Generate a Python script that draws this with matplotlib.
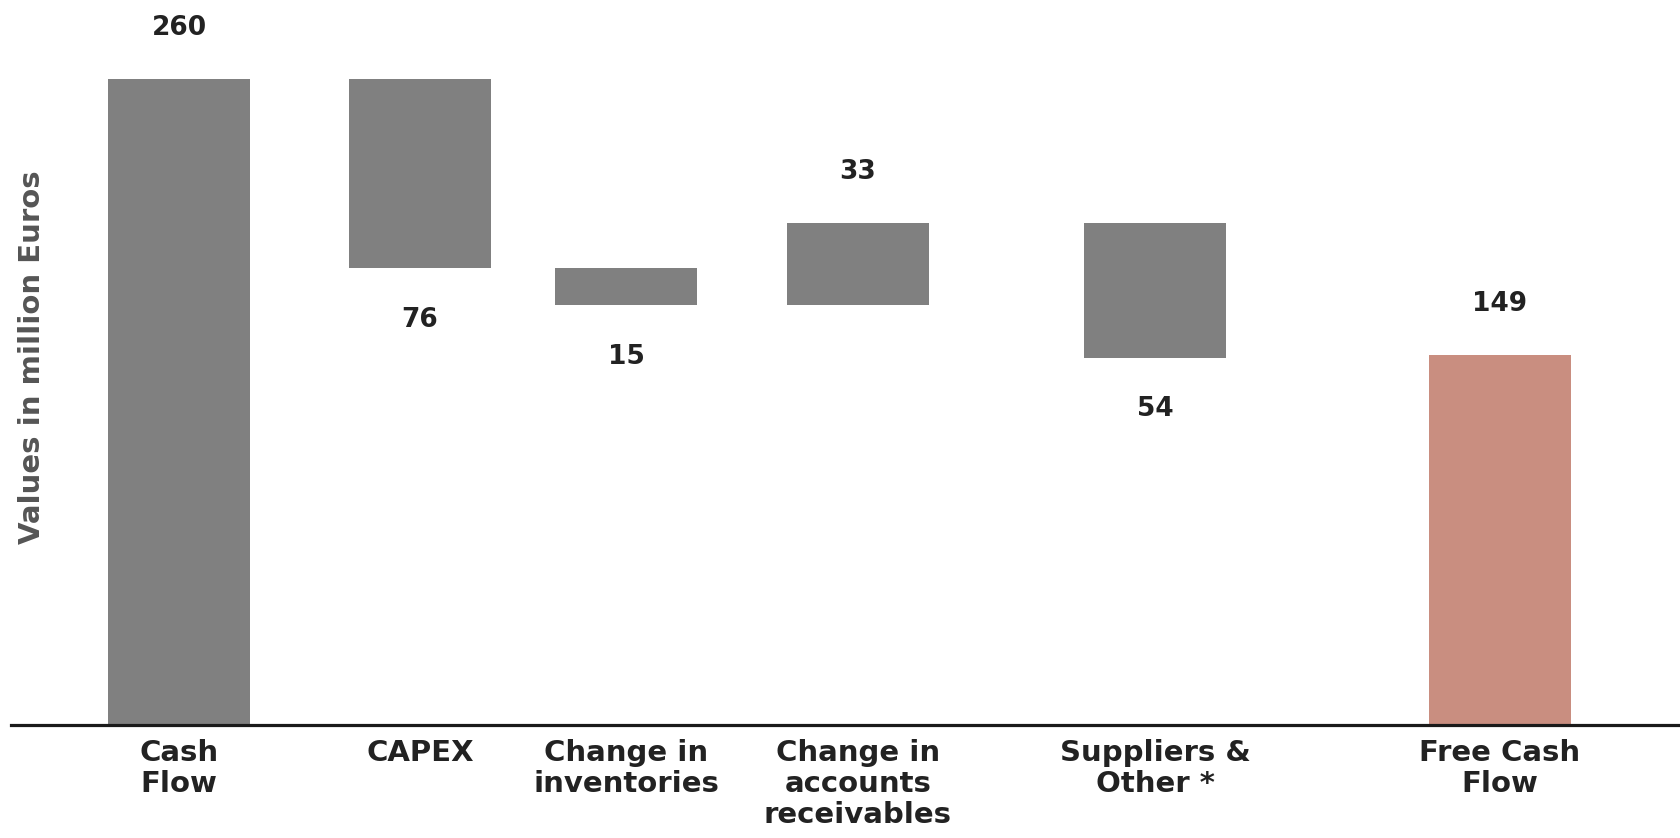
import numpy as np
import matplotlib
matplotlib.use("Agg")
import matplotlib.pyplot as plt

# Free cash flow bridge, million Euros
categories = ["Cash\nFlow", "CAPEX", "Change in\ninventories",
              "Change in\naccounts\nreceivables", "Suppliers &\nOther *",
              "Free Cash\nFlow"]
changes = [260, -76, -15, 33, -54]
free_cash_flow = 149

# horizontal layout of the columns (pixel-like units)
x_pos = [179, 420, 626, 858, 1155, 1500]
bar_width = 142

grey = "#808080"
fcf_color = "#C98E80"
text_color = "#222222"

# running totals for the floating bars
ends = np.cumsum(changes)
starts = np.concatenate([[0], ends[:-1]])
bottoms = list(np.minimum(starts, ends)) + [0]
heights = list(np.abs(changes)) + [free_cash_flow]
labels = [abs(v) for v in changes] + [free_cash_flow]
ups = [v > 0 for v in changes] + [True]
colors = [grey] * len(changes) + [fcf_color]

fig = plt.figure(figsize=(16.81, 8.38), dpi=100)
ax = fig.add_axes([11 / 1681, 113 / 838, 1 - 11 / 1681, 725 / 838])

ax.bar(x_pos, heights, bottom=bottoms, width=bar_width, color=colors)

for x, b, h, val, up in zip(x_pos, bottoms, heights, labels, ups):
    if up:
        ax.annotate(str(val), (x, b + h), xytext=(0, 37), textcoords="offset points",
                    ha="center", va="center", fontsize=19, fontweight="bold",
                    color=text_color)
    else:
        ax.annotate(str(val), (x, b), xytext=(0, -37), textcoords="offset points",
                    ha="center", va="center", fontsize=19, fontweight="bold",
                    color=text_color)

ax.set_xlim(11, 1681)
ax.set_ylim(0, 292)

for s in ["top", "right", "left"]:
    ax.spines[s].set_visible(False)
ax.spines["bottom"].set_linewidth(2.3)
ax.spines["bottom"].set_color("#1a1a1a")

ax.set_yticks([])
ax.set_xticks(x_pos)
ax.set_xticklabels(categories, fontsize=21, fontweight="bold", color=text_color,
                   linespacing=1.15)
ax.tick_params(axis="x", length=0, pad=10)
for t in ax.get_xticklabels():
    t.set_verticalalignment("top")

fig.text(32 / 1681, 1 - 357 / 838, "Values in million Euros", rotation=90,
         ha="center", va="center", fontsize=21, fontweight="bold", color="#555555")

fig.savefig("out.png", dpi=100)
